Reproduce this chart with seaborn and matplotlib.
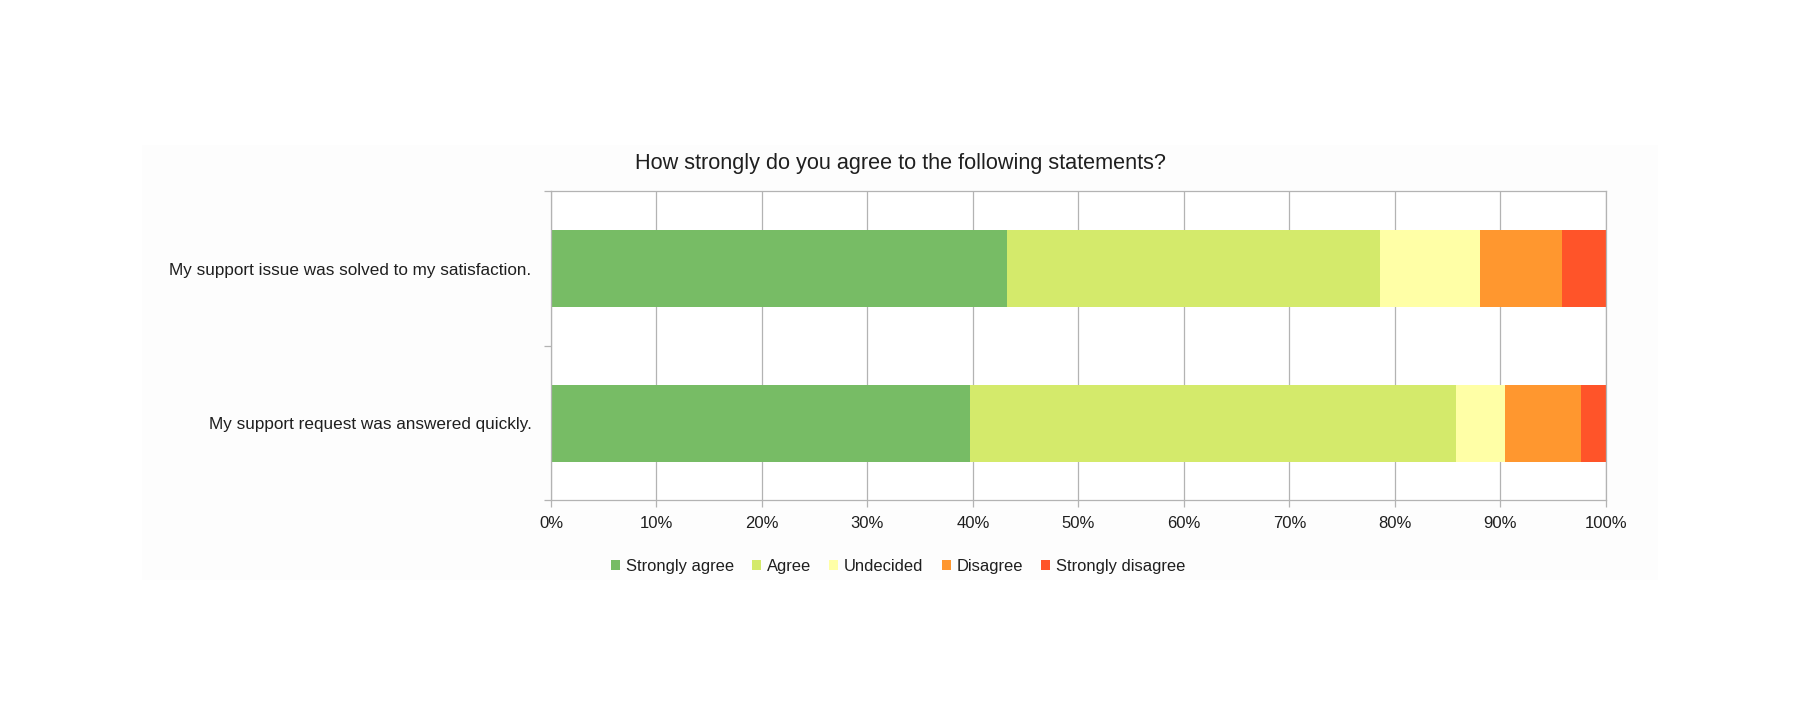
import matplotlib
matplotlib.use('Agg')
import matplotlib.pyplot as plt
from matplotlib.patches import Patch, Rectangle
from matplotlib.ticker import PercentFormatter, FixedLocator
import numpy as np
import pandas as pd
import seaborn as sns

statements = [
    "My support issue was solved to my satisfaction.",
    "My support request was answered quickly.",
]
levels = ["Strongly agree", "Agree", "Undecided", "Disagree", "Strongly disagree"]
colors = ["#77bc65", "#d4ea6b", "#ffffa6", "#ff972f", "#ff5429"]

# share of answers in percent, one list per level (same order as statements)
strongly_agree = [43.2, 39.7]
agree = [35.4, 46.1]
undecided = [9.5, 4.6]
disagree = [7.7, 7.2]
strongly_disagree = [4.2, 2.4]

ticks_pct = [0, 10, 20, 30, 40, 50, 60, 70, 80, 90, 100]

df = pd.DataFrame({
    "statement": statements,
    "Strongly agree": strongly_agree,
    "Agree": agree,
    "Undecided": undecided,
    "Disagree": disagree,
    "Strongly disagree": strongly_disagree,
})
# cumulative ends so each layer can be drawn as one seaborn bar
cum = df[levels].cumsum(axis=1)
cum["statement"] = df["statement"]

sns.set_theme(style="white")
plt.rcParams['font.family'] = ['Liberation Sans', 'DejaVu Sans']
text_color = "#1f1f1f"
line_color = "#b3b3b3"

fig = plt.figure(figsize=(18, 7.22), dpi=100)
fig.patch.set_facecolor("white")
fig.patches.append(Rectangle((0.0789, 0.1967), 0.8422, 0.6025, transform=fig.transFigure,
                             facecolor="#fdfdfd", edgecolor="none", zorder=-10))

ax = fig.add_axes([0.3061, 0.3068, 0.5861, 0.4280])
ax.set_facecolor("white")

# draw from the longest cumulative bar down so shorter ones sit on top
for level, color in reversed(list(zip(levels, colors))):
    sns.barplot(data=cum, x=level, y="statement", orient="h", color=color,
                saturation=1, width=0.5, linewidth=0, ax=ax)

ax.set_xlim(0, 100)
ax.set_ylim(1.5, -0.5)
ax.set_xlabel("")
ax.set_ylabel("")
ax.xaxis.set_major_locator(FixedLocator(ticks_pct))
ax.xaxis.set_major_formatter(PercentFormatter(decimals=0))
ax.set_axisbelow(True)
ax.grid(axis="x", color=line_color, linewidth=0.9)
ax.grid(axis="y", visible=False)

for s in ax.spines.values():
    s.set_visible(True)
    s.set_color(line_color)
    s.set_linewidth(0.9)

ax.tick_params(axis="x", which="major", bottom=True, length=5, width=0.9,
               color=line_color, pad=6.5, labelsize=12, labelcolor=text_color)
ax.set_yticks([0, 1])
ax.set_yticklabels(statements)
ax.set_yticks([-0.5, 0.5, 1.5], minor=True)
ax.tick_params(axis="y", which="major", left=True, length=0, pad=14,
               labelsize=12.35, labelcolor=text_color)
ax.tick_params(axis="y", which="minor", left=True, length=5, width=0.9,
               color=line_color)

fig.text(0.5, 0.7742, "How strongly do you agree to the following statements?",
         ha="center", va="center", fontsize=15.6, color=text_color)

handles = [Patch(facecolor=c, edgecolor="none", label=l) for l, c in zip(levels, colors)]
fig.legend(handles=handles, loc="center", bbox_to_anchor=(0.499, 0.216), ncol=5,
           frameon=False, fontsize=11.9, handlelength=0.55, handleheight=0.55,
           handletextpad=0.35, columnspacing=1.1, labelcolor=text_color)

fig.savefig("out.png", dpi=100)
